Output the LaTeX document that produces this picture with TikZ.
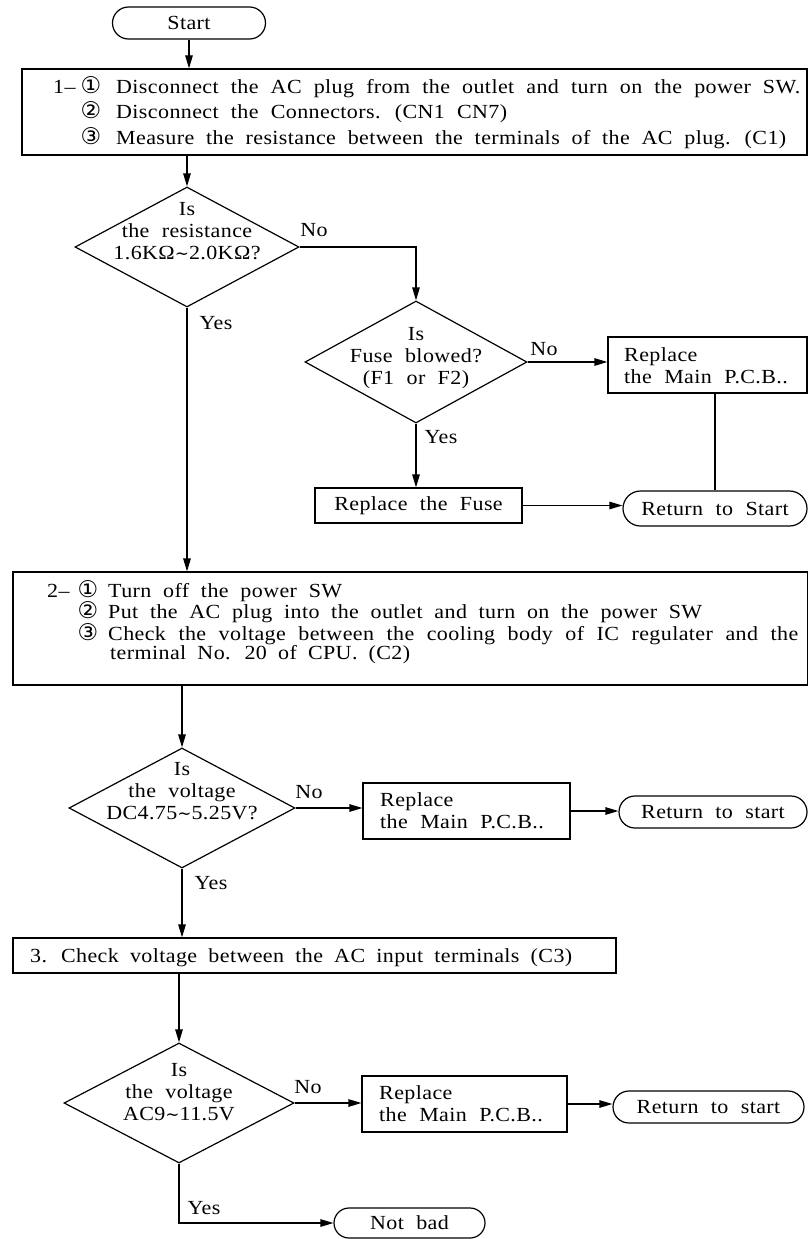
\documentclass[tikz,border=0pt]{standalone}
\usepackage{fontspec}
\setmainfont{Liberation Serif}[WordSpace=2.1, LetterSpace=2, FakeStretch=1.1]
\newfontfamily\circfont{DejaVu Sans}
\newfontfamily\tildefont{DejaVu Serif}
\usetikzlibrary{arrows.meta,shapes.geometric,shapes.misc}
\newcommand\cnum[1]{{\circfont\fontsize{23}{23}\selectfont #1}}
\newcommand\fitline[2]{\makebox[#1][s]{#2}}
\newcommand\wave{{\tildefont\fontsize{17}{17}\selectfont ∼}}
\tikzset{
  every node/.style={font=\fontsize{20}{22}\selectfont},
  boxnode/.style={draw, line width=1.2pt, rectangle, inner sep=0pt},
  termnode/.style={draw, line width=1.2pt, rounded rectangle, inner sep=0pt},
  dianode/.style={draw, line width=1.2pt, diamond, inner sep=0pt},
  lbl/.style={inner sep=0pt},
  ltext/.style={inner sep=0pt, anchor=base west},
  cnode/.style={inner sep=0pt, anchor=base},
  dtext/.style={inner sep=0pt, align=center, font=\fontsize{20}{22}\selectfont},
  flow/.style={line width=1.2pt, -{Triangle[length=13pt,width=7.5pt]}},
  plain/.style={line width=1.2pt},
}
\begin{document}
\begin{tikzpicture}[x=1pt,y=-1pt]
\useasboundingbox (0,0) rectangle (808,1239);
% top
\node[termnode, minimum width=153pt, minimum height=32pt] (start) at (189,23) {Start};
\node[boxnode, minimum width=785pt, minimum height=86pt] (b1) at (414.5,112) {};
\node[ltext] (b1n) at (53,93) {1–};
\node[cnode] (b1c1) at (91,93) {\cnum{①}};
\node[cnode] (b1c2) at (91,118) {\cnum{②}};
\node[cnode] (b1c3) at (91,144) {\cnum{③}};
\node[ltext] (b1a) at (116,93) {\fitline{684pt}{Disconnect the AC plug from the outlet and turn on the power SW.}};
\node[ltext] (b1b) at (116,118) {\fitline{391pt}{Disconnect the Connectors. (CN1 CN7)}};
\node[ltext] (b1c) at (116,144) {\fitline{670pt}{Measure the resistance between the terminals of the AC plug. (C1)}};
% diamond 1
\node[dianode, minimum width=224pt, minimum height=120pt] (d1) at (187,247) {};
\node[dtext] (d1t) at (187,231) {Is\\the resistance\\1.6KΩ\wave2.0KΩ?};
\node[lbl] (no1) at (314,230) {No};
\node[lbl] (yes1) at (216,323) {Yes};
% diamond 2
\node[dianode, minimum width=222pt, minimum height=122pt] (d2) at (416,362) {};
\node[dtext] (d2t) at (416,358) {Is\\Fuse blowed?\\(F1 or F2)};
\node[lbl] (no2) at (544,349) {No};
\node[lbl] (yes2) at (441,437) {Yes};
\node[boxnode, minimum width=199pt, minimum height=56pt] (r1) at (707.5,365) {};
\node[lbl, anchor=west, align=left] (r1t) at (624,366) {Replace\\the Main P.C.B..};
\node[boxnode, minimum width=207pt, minimum height=35pt] (fuse) at (418.5,505.5) {Replace the Fuse};
\node[termnode, minimum width=184pt, minimum height=35pt] (ret1) at (715,508.5) {Return to Start};
% box 2
\node[boxnode, minimum width=795pt, minimum height=113pt] (b2) at (410.5,628.5) {};
\node[ltext] (b2n) at (47,597) {2–};
\node[cnode] (b2c1) at (88,597) {\cnum{①}};
\node[cnode] (b2c2) at (88,618) {\cnum{②}};
\node[cnode] (b2c3) at (88,640) {\cnum{③}};
\node[ltext] (b2a) at (108,597) {\fitline{234pt}{Turn off the power SW}};
\node[ltext] (b2b) at (108,618) {\fitline{594pt}{Put the AC plug into the outlet and turn on the power SW}};
\node[ltext] (b2c) at (108,640) {\fitline{690pt}{Check the voltage between the cooling body of IC regulater and the}};
\node[ltext] (b2d) at (110,659) {\fitline{300pt}{terminal No. 20 of CPU. (C2)}};
% diamond 3
\node[dianode, minimum width=226pt, minimum height=120pt] (d3) at (182,808) {};
\node[dtext] (d3t) at (182,791) {Is\\the voltage\\DC4.75\wave5.25V?};
\node[lbl] (no3) at (309,792) {No};
\node[lbl] (yes3) at (211,883) {Yes};
\node[boxnode, minimum width=207pt, minimum height=56pt] (r2) at (466.5,811) {};
\node[lbl, anchor=west, align=left] (r2t) at (380,811) {Replace\\the Main P.C.B..};
\node[termnode, minimum width=188pt, minimum height=32pt] (ret2) at (713,812) {Return to start};
% box 3
\node[boxnode, minimum width=603pt, minimum height=35pt] (b3) at (314.5,955.5) {};
\node[ltext] (b3t) at (30,962) {\fitline{542pt}{3. Check voltage between the AC input terminals (C3)}};
% diamond 4
\node[dianode, minimum width=230pt, minimum height=120pt] (d4) at (179,1103) {};
\node[dtext] (d4t) at (179,1092) {Is\\the voltage\\AC9\wave11.5V};
\node[lbl] (no4) at (308,1087) {No};
\node[lbl] (yes4) at (204,1208) {Yes};
\node[boxnode, minimum width=205pt, minimum height=56pt] (r3) at (464.5,1104) {};
\node[lbl, anchor=west, align=left] (r3t) at (379,1104) {Replace\\the Main P.C.B..};
\node[termnode, minimum width=191pt, minimum height=32pt] (ret3) at (708.5,1107) {Return to start};
\node[termnode, minimum width=151pt, minimum height=30pt] (nb) at (409.5,1223) {Not bad};
% connectors
\draw[flow] (start.south) -- (start.south |- b1.north);
\draw[flow] (b1.south -| d1.north) -- (d1.north);
\draw[flow] (d1.east) -| (d2.north);
\draw[flow] (d2.east) -- (d2.east -| r1.west);
\draw[flow] (d2.south) -- (d2.south |- fuse.north);
\draw[flow] (fuse.east) -- (fuse.east -| ret1.west);
\draw[plain] (ret1.north |- r1.south) -- (ret1.north);
\draw[flow] (d1.south) -- (d1.south |- b2.north);
\draw[flow] (b2.south -| d3.north) -- (d3.north);
\draw[flow] (d3.east) -- (d3.east -| r2.west);
\draw[flow] (r2.east) -- (r2.east -| ret2.west);
\draw[flow] (d3.south) -- (d3.south |- b3.north);
\draw[flow] (b3.south -| d4.north) -- (d4.north);
\draw[flow] (d4.east) -- (d4.east -| r3.west);
\draw[flow] (r3.east) -- (r3.east -| ret3.west);
\draw[flow] (d4.south) |- (nb.west);
\end{tikzpicture}
\end{document}
